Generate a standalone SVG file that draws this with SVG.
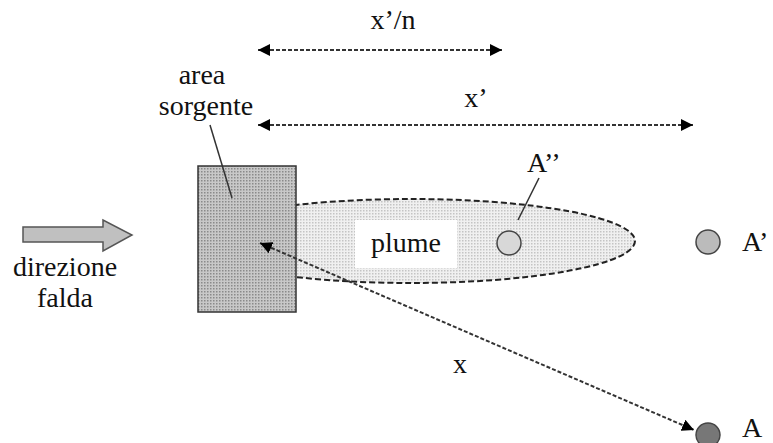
<svg xmlns="http://www.w3.org/2000/svg" width="773" height="443" viewBox="0 0 773 443">
<style>
.t{font-family:"Liberation Serif","Times New Roman",serif;font-size:28px;fill:#111}
.dim{stroke:#333;stroke-width:2;stroke-dasharray:4 2;fill:none}
.lead{stroke:#333;stroke-width:1.5;fill:none}
.pt{stroke:#444;stroke-width:1.5}
</style>
<defs>
<pattern id="dots" width="3" height="3" patternUnits="userSpaceOnUse">
<rect width="3" height="3" fill="#c8c8c8"/><rect width="1.5" height="1.5" fill="#8a8a8a"/>
</pattern>
<pattern id="dots2" width="3" height="3" patternUnits="userSpaceOnUse">
<rect width="3" height="3" fill="#f0f0f0"/><rect width="1.5" height="1.5" fill="#c4c4c4"/>
</pattern>
<clipPath id="clipR"><rect x="296" y="0" width="477" height="443"/></clipPath>
<marker id="ah" viewBox="0 0 10 10" refX="10" refY="5" markerWidth="12" markerHeight="12" markerUnits="userSpaceOnUse" orient="auto-start-reverse">
<path d="M0,0 L10,5 L0,10 Z" fill="#000"/>
</marker>
</defs>
<rect width="773" height="443" fill="#fff"/>
<g id="plume">
<ellipse cx="411" cy="241" rx="224" ry="42" fill="url(#dots2)" stroke="#222" stroke-width="2" stroke-dasharray="6 3" clip-path="url(#clipR)"/>
<rect x="355" y="220" width="102" height="48" fill="#fff"/>
<text class="t" x="406" y="252" text-anchor="middle">plume</text>
</g>
<g id="area-sorgente">
<rect x="198" y="166" width="98" height="146" fill="url(#dots)" stroke="#333" stroke-width="1.5"/>
<text class="t" x="202" y="84" text-anchor="middle">area</text>
<text class="t" x="206" y="115" text-anchor="middle">sorgente</text>
<polyline class="lead" points="210,125 232,198"/>
</g>
<g id="direzione-falda">
<polygon points="23,227 103,227 103,220 132,235 103,251 103,242 23,242" fill="#c0c0c0" stroke="#555" stroke-width="1.5"/>
<text class="t" x="65" y="276" text-anchor="middle">direzione</text>
<text class="t" x="65" y="307" text-anchor="middle">falda</text>
</g>
<g id="A2">
<circle class="pt" cx="509" cy="243" r="12" fill="#d8d8d8"/>
<polyline class="lead" points="518,220 539,178"/>
<text class="t" x="527" y="172">A’’</text>
</g>
<g id="A1">
<circle class="pt" cx="708" cy="242" r="12" fill="#bbbbbb"/>
<text class="t" x="742" y="251">A’</text>
</g>
<g id="A0">
<circle class="pt" cx="708" cy="435" r="12" fill="#777777"/>
<text class="t" x="742" y="437">A</text>
</g>
<g id="connectors">
<line class="dim" x1="258" y1="50" x2="502" y2="50" marker-start="url(#ah)" marker-end="url(#ah)"/>
<line class="dim" x1="258" y1="125" x2="693" y2="125" marker-start="url(#ah)" marker-end="url(#ah)"/>
<line class="dim" x1="260" y1="243" x2="694" y2="430" marker-start="url(#ah)" marker-end="url(#ah)"/>
<text class="t" x="393" y="29" text-anchor="middle">x’/n</text>
<text class="t" x="476" y="107" text-anchor="middle">x’</text>
<text class="t" x="460" y="373" text-anchor="middle">x</text>
</g>
</svg>
